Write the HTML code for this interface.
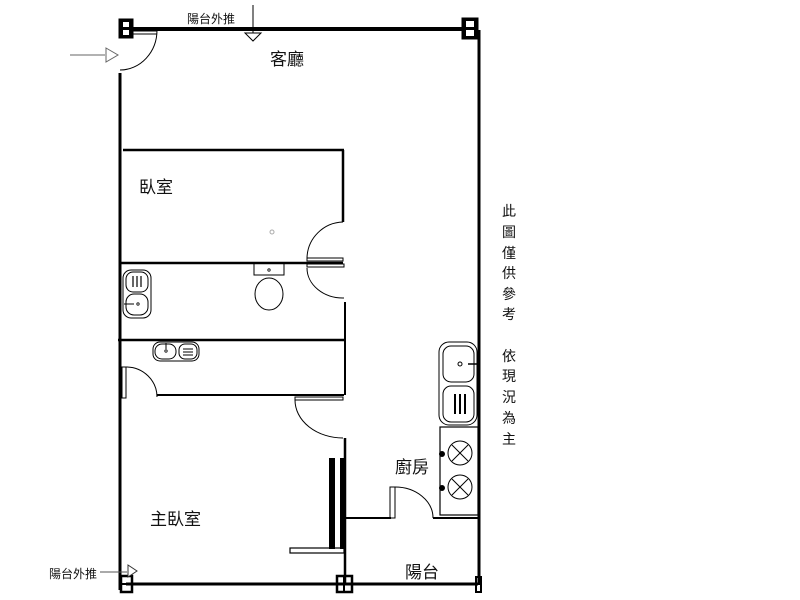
<!DOCTYPE html>
<html><head><meta charset="utf-8"><style>
html,body{margin:0;padding:0;background:#fff;}
svg{display:block;}
text{font-family:"Liberation Sans","Noto Sans CJK TC",sans-serif;fill:#111;}
</style></head><body>
<svg width="800" height="600" viewBox="0 0 800 600" xmlns="http://www.w3.org/2000/svg">
<g stroke="#000" fill="none">
<!-- outer walls -->
<line x1="126" y1="29" x2="470" y2="29" stroke-width="4"/>
<line x1="479" y1="30" x2="479" y2="585" stroke-width="3"/>
<line x1="120" y1="73" x2="120" y2="590" stroke-width="3"/>
<line x1="126" y1="584" x2="478" y2="584" stroke-width="3"/>
<!-- columns -->
<rect x="119" y="19" width="14" height="19" fill="#000"/>
<rect x="123" y="22" width="6" height="5" fill="#fff" stroke="none"/>
<rect x="123" y="30" width="6" height="5" fill="#fff" stroke="none"/>
<rect x="462" y="18" width="16" height="21" fill="#000"/>
<rect x="466" y="21" width="8" height="6" fill="#fff" stroke="none"/>
<rect x="466" y="30" width="8" height="6" fill="#fff" stroke="none"/>
<rect x="121" y="576" width="11" height="16" stroke-width="2.5"/>
<line x1="121" y1="584" x2="132" y2="584" stroke-width="2"/>
<rect x="337" y="576" width="15" height="16" stroke-width="2.5"/>
<line x1="344" y1="576" x2="344" y2="592" stroke-width="2"/>
<rect x="476" y="577" width="5" height="15" stroke-width="2"/>
<!-- entry door -->
<line x1="133" y1="31" x2="157" y2="31" stroke-width="1"/>
<line x1="133" y1="34" x2="157" y2="34" stroke-width="1"/>
<path d="M157 30 A37 40 0 0 1 120 70" stroke-width="1"/>
<!-- arrows -->
<line x1="70" y1="55" x2="105" y2="55" stroke="#666" stroke-width="1"/>
<path d="M106 48 L118 55 L106 62 Z" stroke="#666" fill="#fff"/>
<line x1="253" y1="5" x2="253" y2="33" stroke-width="1"/>
<path d="M245 33 L261 33 L253 41 Z" stroke-width="1" fill="#fff"/>
<line x1="100" y1="572" x2="127" y2="572" stroke="#555" stroke-width="1"/>
<path d="M128 565 L137 571 L128 577 Z" stroke="#333" fill="#fff"/>
<!-- bedroom -->
<line x1="123" y1="150" x2="344" y2="150" stroke-width="2.5"/>
<line x1="343" y1="150" x2="343" y2="222" stroke-width="2.5"/>
<line x1="120" y1="263" x2="343" y2="263" stroke-width="2.5"/>
<path d="M343 222 A37 37 0 0 0 307 258" stroke-width="1"/>
<rect x="307" y="258" width="36" height="3" stroke-width="1"/>
<rect x="307" y="264" width="37" height="3" stroke-width="1"/>
<path d="M307 268 A36 30 0 0 0 344 298" stroke-width="1"/>
<circle cx="272" cy="232" r="2" stroke="#aaa" stroke-width="1"/>
<!-- bathroom -->
<line x1="345" y1="302" x2="345" y2="395" stroke-width="2"/>
<line x1="118" y1="340" x2="345" y2="340" stroke-width="2.5"/>
<rect x="123" y="270" width="28" height="48" rx="8" stroke-width="1"/>
<rect x="126" y="272" width="22" height="20" rx="7" stroke-width="1"/>
<line x1="133" y1="276" x2="133" y2="287" stroke-width="1.2"/><line x1="137" y1="276" x2="137" y2="287" stroke-width="1.2"/><line x1="141" y1="276" x2="141" y2="287" stroke-width="1.2"/>
<rect x="126" y="294" width="22" height="21" rx="8" stroke-width="1"/>
<line x1="124" y1="304" x2="134" y2="304" stroke-width="1"/>
<circle cx="138" cy="304" r="1.2" stroke-width="0.8"/>
<rect x="254" y="263" width="30" height="12" stroke-width="1"/>
<circle cx="269" cy="270" r="1.2" stroke-width="0.8"/>
<ellipse cx="269" cy="294" rx="14" ry="16" stroke-width="1"/>
<!-- hall sink -->
<rect x="153" y="342" width="46" height="19" rx="7" stroke-width="1"/>
<rect x="155" y="344" width="21" height="15" rx="7" stroke-width="1"/>
<circle cx="166" cy="351" r="1.2" stroke-width="0.8"/>
<line x1="166" y1="343" x2="166" y2="349" stroke-width="1"/>
<rect x="179" y="344" width="18" height="15" rx="6" stroke-width="1"/>
<line x1="183" y1="349" x2="193" y2="349"/><line x1="183" y1="352" x2="193" y2="352"/><line x1="183" y1="355" x2="193" y2="355"/>
<line x1="157" y1="395" x2="344" y2="395" stroke-width="2"/>
<rect x="122" y="367" width="4" height="31" stroke-width="1"/>
<path d="M126 367 A31 30 0 0 1 157 397" stroke-width="1"/>
<!-- master door -->
<rect x="295" y="397" width="48" height="3" stroke-width="1"/>
<path d="M295 400 A48 38 0 0 0 343 438" stroke-width="1"/>
<line x1="345" y1="438" x2="345" y2="585" stroke-width="2.5"/>
<!-- wardrobe -->
<rect x="329" y="458" width="6" height="91" fill="#000" stroke="none"/>
<rect x="340" y="458" width="4" height="91" fill="#000" stroke="none"/>
<rect x="290" y="548" width="54" height="5" stroke-width="1.2"/>
<!-- kitchen -->
<line x1="345" y1="518" x2="391" y2="518" stroke-width="2"/>
<rect x="390" y="487" width="5" height="31" stroke-width="1"/>
<path d="M395 487 A38 31 0 0 1 433 518" stroke-width="1"/>
<line x1="433" y1="518" x2="479" y2="518" stroke-width="2"/>
<rect x="440" y="427" width="38" height="88" stroke-width="1.2"/>
<circle cx="460" cy="453" r="12" stroke-width="1"/>
<line x1="452" y1="445" x2="468" y2="461"/><line x1="468" y1="445" x2="452" y2="461"/>
<circle cx="460" cy="487" r="12" stroke-width="1"/>
<line x1="452" y1="479" x2="468" y2="495"/><line x1="468" y1="479" x2="452" y2="495"/>
<circle cx="442" cy="454" r="2.5" fill="#000"/>
<circle cx="442" cy="488" r="2.5" fill="#000"/>
<rect x="439" y="342" width="38" height="83" rx="10" stroke-width="1"/>
<rect x="443" y="346" width="31" height="36" rx="8" stroke-width="1"/>
<circle cx="460" cy="364" r="2" stroke-width="1"/>
<line x1="468" y1="364" x2="478" y2="364" stroke-width="1.5"/>
<rect x="443" y="386" width="31" height="36" rx="8" stroke-width="1"/>
<line x1="455" y1="394" x2="455" y2="414" stroke-width="2"/><line x1="460" y1="394" x2="460" y2="414" stroke-width="2"/><line x1="465" y1="394" x2="465" y2="414" stroke-width="2"/>
</g>
<g font-size="17">
<text x="270" y="65">客廳</text>
<text x="139" y="193">臥室</text>
<text x="150" y="525">主臥室</text>
<text x="395" y="473">廚房</text>
<text x="405" y="578">陽台</text>
</g>
<g font-size="12">
<text x="187" y="23">陽台外推</text>
<text x="49" y="578">陽台外推</text>
</g>
<g font-size="14" text-anchor="middle">
<text x="509" y="216">此</text><text x="509" y="237">圖</text><text x="509" y="258">僅</text>
<text x="509" y="278">供</text><text x="509" y="299">參</text><text x="509" y="319">考</text>
<text x="509" y="361">依</text><text x="509" y="381">現</text><text x="509" y="402">況</text>
<text x="509" y="423">為</text><text x="509" y="444">主</text>
</g>
</svg>
</body></html>
